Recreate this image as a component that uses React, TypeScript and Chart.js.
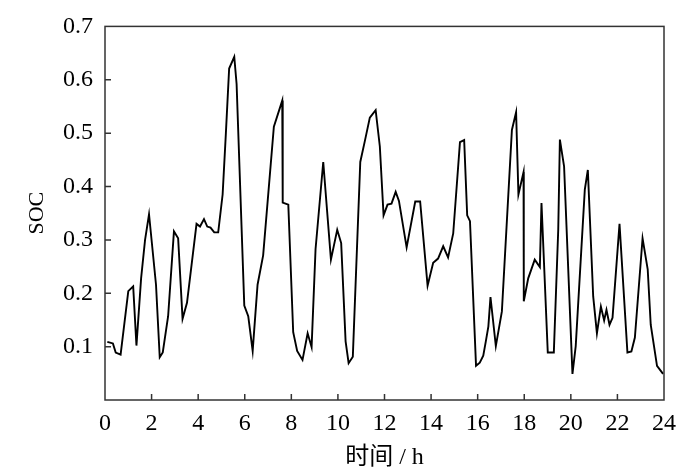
import React, { useRef, useEffect } from 'react';
import { Chart, registerables } from 'chart.js';

Chart.register(...registerables);

// time of day (h) and state of charge
const hours = [
  0.1, 0.34, 0.46, 0.67, 1.0, 1.21, 1.35, 1.55, 1.72, 1.89, 2.19, 2.35, 2.48, 2.71, 2.96, 3.14,
  3.33, 3.52, 3.93, 4.08, 4.25, 4.39, 4.53, 4.69, 4.86, 5.05, 5.19, 5.33, 5.55, 5.65, 5.98, 6.15,
  6.34, 6.55, 6.79, 7.25, 7.61, 7.63, 7.87, 8.08, 8.25, 8.48, 8.7, 8.87, 9.04, 9.37, 9.7, 9.97,
  10.14, 10.33, 10.46, 10.64, 10.96, 11.16, 11.37, 11.62, 11.8, 11.96, 12.13, 12.3, 12.48, 12.62,
  12.95, 13.32, 13.53, 13.85, 14.09, 14.3, 14.52, 14.73, 14.95, 15.24, 15.42, 15.55, 15.67, 15.93,
  16.09, 16.24, 16.35, 16.46, 16.55, 16.78, 17.04, 17.47, 17.65, 17.75, 17.97, 17.98, 18.17, 18.45,
  18.67, 18.74, 19.01, 19.27, 19.46, 19.53, 19.71, 20.07, 20.21, 20.6, 20.73, 20.96, 21.12, 21.29,
  21.43, 21.53, 21.66, 21.79, 22.09, 22.43, 22.6, 22.75, 23.08, 23.3, 23.43, 23.7, 23.96,
];

const soc = [
  0.109, 0.106, 0.089, 0.085, 0.204, 0.213, 0.102, 0.228, 0.3, 0.348, 0.216, 0.08, 0.089, 0.157, 0.316, 0.303,
  0.152, 0.182, 0.33, 0.325, 0.339, 0.325, 0.323, 0.314, 0.314, 0.385, 0.5, 0.621, 0.643, 0.592, 0.177, 0.157,
  0.092, 0.216, 0.271, 0.512, 0.561, 0.37, 0.366, 0.127, 0.092, 0.075, 0.125, 0.099, 0.283, 0.446, 0.263, 0.319,
  0.294, 0.11, 0.069, 0.081, 0.446, 0.486, 0.529, 0.543, 0.475, 0.346, 0.366, 0.368, 0.39, 0.373,
  0.286, 0.372, 0.372, 0.214, 0.257, 0.265, 0.288, 0.267, 0.312, 0.483, 0.487, 0.346, 0.335, 0.064,
  0.07, 0.083, 0.11, 0.138, 0.193, 0.101, 0.166, 0.506, 0.539, 0.385, 0.427, 0.185, 0.228, 0.263,
  0.249, 0.369, 0.089, 0.089, 0.32, 0.488, 0.438, 0.049, 0.101, 0.394, 0.431, 0.194, 0.125, 0.175,
  0.149, 0.169, 0.141, 0.154, 0.33, 0.089, 0.091, 0.117, 0.303, 0.245, 0.141, 0.064, 0.049,
];

const xTicks = [0, 2, 4, 6, 8, 10, 12, 14, 16, 18, 20, 22, 24];
const yTicks = [0.1, 0.2, 0.3, 0.4, 0.5, 0.6, 0.7];

const FONT = '"Liberation Serif", "Times New Roman", "Noto Sans CJK SC", serif';
const AXIS_COLOR = '#333';

// box around the plot plus short inward tick marks
const framePlugin = {
  id: 'frameTicks',
  afterDraw(chart: Chart) {
    const { ctx, chartArea } = chart;
    const { left, right, top, bottom } = chartArea;
    const xs = chart.scales.x;
    const ys = chart.scales.y;
    ctx.save();
    ctx.strokeStyle = AXIS_COLOR;
    ctx.lineWidth = 1.5;
    ctx.strokeRect(left, top, right - left, bottom - top);
    ctx.beginPath();
    xTicks.slice(1, -1).forEach(v => {
      const px = xs.getPixelForValue(v);
      ctx.moveTo(px, bottom);
      ctx.lineTo(px, bottom - 6);
    });
    yTicks.slice(0, -1).forEach(v => {
      const py = ys.getPixelForValue(v);
      ctx.moveTo(left, py);
      ctx.lineTo(left + 6, py);
    });
    ctx.stroke();
    ctx.restore();
  },
};

const App: React.FC = () => {
  const chartRef = useRef<HTMLCanvasElement>(null);
  const chartInstance = useRef<Chart | null>(null);

  useEffect(() => {
    if (!chartRef.current) return;
    if (chartInstance.current) chartInstance.current.destroy();

    const points = hours.map((h, i) => ({ x: h, y: soc[i] }));

    chartInstance.current = new Chart(chartRef.current, {
      type: 'line',
      data: {
        datasets: [
          {
            label: 'SOC',
            data: points,
            borderColor: '#000',
            borderWidth: 1.9,
            pointRadius: 0,
            tension: 0,
            fill: false,
          },
        ],
      },
      plugins: [framePlugin],
      options: {
        animation: false,
        responsive: true,
        maintainAspectRatio: false,
        layout: { padding: { top: 22, right: 36, left: 0, bottom: 0 } },
        plugins: {
          legend: { display: false },
          tooltip: { enabled: false },
        },
        scales: {
          x: {
            type: 'linear',
            min: 0,
            max: 24,
            afterBuildTicks: (axis) => {
              axis.ticks = xTicks.map(v => ({ value: v }));
            },
            afterFit: (axis) => {
              axis.height = 75;
            },
            grid: { display: false, drawTicks: false },
            border: { display: false },
            ticks: {
              color: '#000',
              padding: 9,
              maxRotation: 0,
              font: { family: FONT, size: 24 },
            },
            title: {
              display: true,
              text: '时间 / h',
              color: '#000',
              padding: { top: 0, bottom: 3 },
              font: { family: FONT, size: 24 },
            },
          },
          y: {
            type: 'linear',
            min: 0,
            max: 0.7,
            afterBuildTicks: (axis) => {
              axis.ticks = yTicks.map(v => ({ value: v }));
            },
            afterFit: (axis) => {
              axis.width = 105;
            },
            grid: { display: false, drawTicks: false },
            border: { display: false },
            ticks: {
              color: '#000',
              padding: 12,
              font: { family: FONT, size: 24 },
              callback: (v) => Number(v).toFixed(1),
            },
            title: {
              display: true,
              text: 'SOC',
              color: '#000',
              padding: { top: 24, bottom: 0 },
              font: { family: FONT, size: 22 },
            },
          },
        },
      },
    });

    return () => {
      if (chartInstance.current) {
        chartInstance.current.destroy();
        chartInstance.current = null;
      }
    };
  }, []);

  return (
    <div style={{ position: 'absolute', left: 0, top: 0, width: 700, height: 475, background: '#fff' }}>
      <canvas ref={chartRef} />
    </div>
  );
};

export default App;
